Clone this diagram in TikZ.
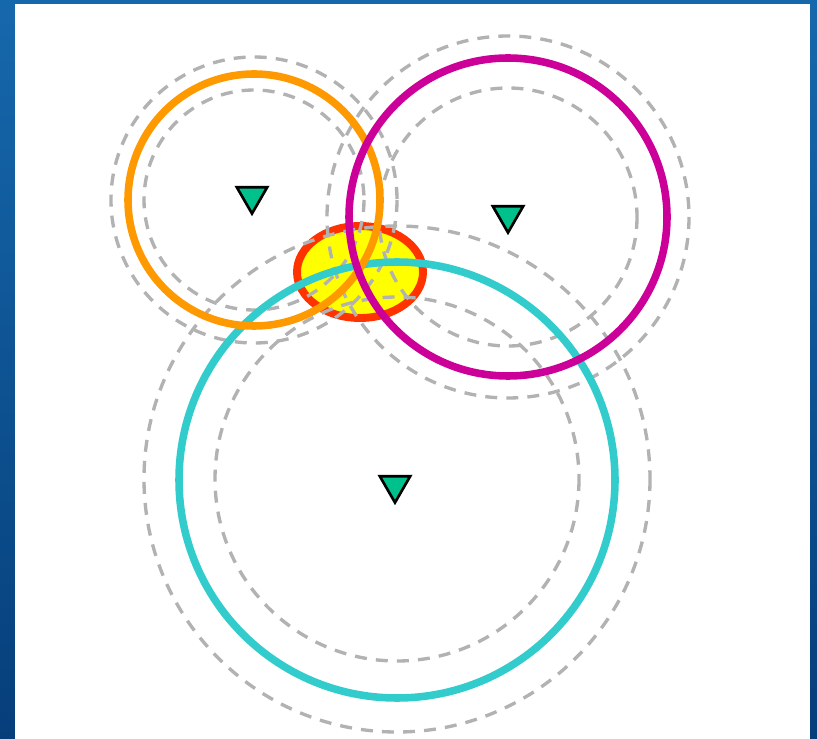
\documentclass[tikz,border=0pt]{standalone}
\usepackage{xcolor}
\usepackage{tikz}
\usetikzlibrary{shapes.geometric}

\definecolor{bgtop}{RGB}{22,104,172}
\definecolor{bgbot}{RGB}{6,62,122}
\definecolor{rangeorange}{RGB}{255,153,0}
\definecolor{rangemagenta}{RGB}{204,0,153}
\definecolor{rangecyan}{RGB}{51,204,204}
\definecolor{zonered}{RGB}{255,51,0}
\definecolor{zoneyellow}{RGB}{255,255,0}
\definecolor{stationfill}{RGB}{0,192,140}

\begin{document}
\begin{tikzpicture}[
  x=0.02cm, y=-0.02cm,
  rangering/.style={line width=4.3pt},
  band/.style={draw=gray!60, line width=1.9pt, dash pattern=on 6.8pt off 5.2pt},
  station/.style={regular polygon, regular polygon sides=3, shape border rotate=180, draw=black, fill=stationfill, line width=1.5pt, inner sep=0pt, minimum size=20pt},
]
% Background
\useasboundingbox (0,0) rectangle (817,739);
\shade[top color=bgtop, bottom color=bgbot] (0,0) rectangle (817,739);
\fill[white] (15,4) rectangle (810,739);

% Overlap zone
\draw[zonered, fill=zoneyellow, line width=4.5pt] (360,272) ellipse [x radius=63, y radius=46];

% Uncertainty bands
\draw[band] (254,200) circle [radius=143];
\draw[band] (254,200) circle [radius=110];
\draw[band] (508,217) circle [radius=181];
\draw[band] (508,217) circle [radius=129];
\draw[band] (397,479) circle [radius=253];
\draw[band] (397,479) circle [radius=182];

% Range circles
\draw[rangering, rangecyan] (397,480) circle [radius=218];
\draw[rangering, rangeorange] (254,200) circle [radius=126];
\draw[rangering, rangemagenta] (508,217) circle [radius=159];

% Stations
\node[station] (sta) at (252,196) {};
\node[station] (stb) at (508,215) {};
\node[station] (stc) at (395,485) {};
\end{tikzpicture}
\end{document}
